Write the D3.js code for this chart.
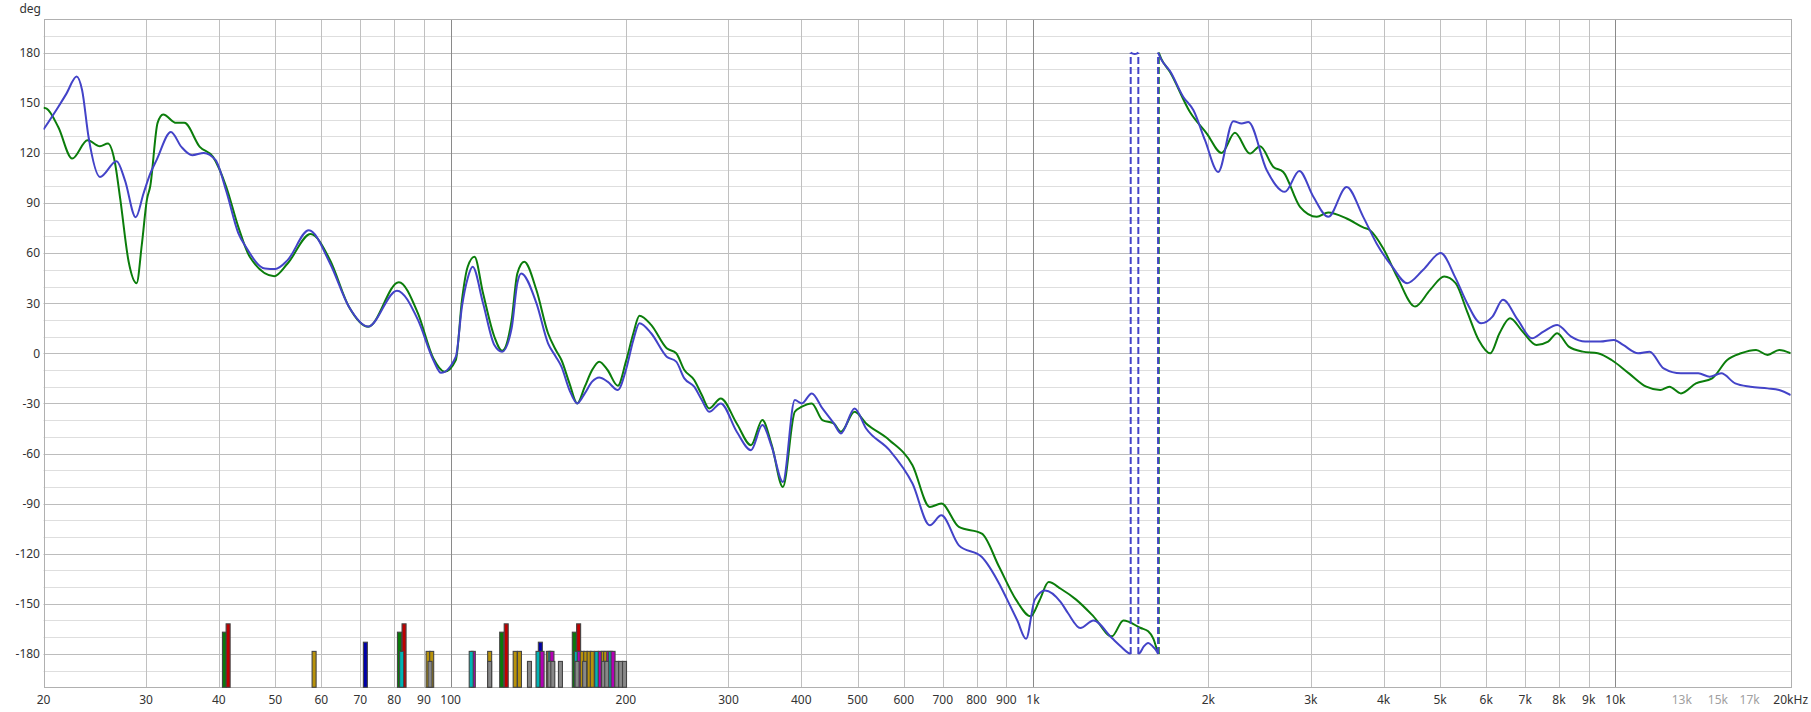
<!DOCTYPE html>
<html><head><meta charset="utf-8">
<script src="https://cdn.jsdelivr.net/npm/d3@7"></script>
<style>html,body{margin:0;padding:0;background:#fff;}svg{display:block;font-family:"Noto Sans",sans-serif;}</style>
</head><body>
<svg id="chart" width="1811" height="712"></svg>
<script>
// ---------------- data ----------------
const greenFreq = [20,20.25,21.2,22.4,23.8,25.0,25.8,26.5,27.1,28.0,
28.9,29.5,30.1,30.5,31.4,32.1,33.8,34.9,37.1,39.1,
41.2,43.2,45.2,49.8,52.5,57.5,62.1,66.9,72.2,81.5,
87.9,93.4,97.6,102.1,104.6,107,109.9,113.7,118.9,122.6,
127.3,130.2,133.8,140.4,147,151.6,155,160,165,170,
175,180,186,193.7,200,206,211,221,235,244,
252,262,270,278,291,310,328,343,356,372,
390,401,417,435,455,468,494,517,567,621,
665,696,746,817,875,935,991,1026,1064,1116,
1186,1270,1366,1430,1531,1577,1610,1635,1660,1719,
1860,1988,2108,2222,2358,2454,2587,2690,2874,3071,
3214,3456,3690,3790,3994,4230,4530,4808,5082,5317,
5565,5825,6100,6325,6592,6930,7320,7665,7944,8318,
8788,9328,9852,10550,11300,11940,12380,12960,13750,14660,
15560,16430,17440,18250,19110,20000];
const greenPhase = [147,146.5,135.5,116.6,127.6,124,125.6,115,92,55,
42,65,92,100,138,143,138,138,123.6,117.6,
99.6,75.7,57.8,46.2,53.8,71.4,55.8,27.9,15.9,42.6,
23.9,-3,-11,-4,31.9,51.8,57.8,35.9,9.9,1.5,
19.9,47.8,54.8,37.9,12,2,-4,-18,-30,-20,
-10,-5,-10,-19.4,-5,12,22.5,17,3,0,
-10,-16,-25,-33,-27,-42,-55,-40,-55,-80,
-35,-32,-30,-40,-42,-47,-35,-42,-52,-67,
-92,-90,-104,-108,-128,-147.5,-157.5,-148,-137,-141,
-147.5,-157.5,-169.5,-160,-164.5,-166.5,-171,-178,176.5,168.4,
144.5,131.6,120,132,119.6,124,111.6,108.6,87.7,81.7,
84.3,80.7,75.4,73.7,62.8,45,28,38,46,42,
25,8,0,12,21,13,5,7,12,4,
1,0,-4,-12,-20,-22,-20,-24,-18,-15,
-4,0,2,-1,2,0];

const blueFreq = [20,21.2,21.9,22.8,23.3,23.9,25.0,26.7,27.6,28.8,
29.7,30.5,31.3,33.1,34.5,36.0,37.7,39.5,41.2,43.2,
44.5,48,50,52.5,57.1,62.1,66.9,72.2,80.9,87.9,
93.4,96.3,102.1,104.6,107,109.1,113.7,118.9,122.6,127.3,
130.2,132.2,140.4,147,151.6,155,160,165,170,175,
180,186,193.7,200,206,211,221,235,244,252,
262,270,278,291,310,328,343,356,372,390,
401,417,435,455,468,494,517,567,621,665,
696,746,817,875,903,940,973,1007,1049,1116,
1148,1206,1270,1366,1420,1455,1480,1495,1510,1525,
1550,1577,1605,1635,1660,1719,1812,1886,1974,2080,
2208,2282,2343,2520,2708,2866,3030,3214,3456,3690,
3890,4136,4390,4678,5012,5317,5565,5880,6152,6412,
6800,7187,7525,7944,8395,8873,9413,9944,10310,10940,
11450,12100,12960,13880,14520,15200,16060,17050,18250,19110,
20000];
const bluePhase = [134,147.5,155.5,165.8,157.5,129.5,105.6,115,103.6,81.5,
95.7,107.6,116,132.5,123.6,118.6,120,115.6,97,72,
63.8,50.8,50.5,55.8,73.7,53.8,27.9,16,37.5,20,
-4,-11.7,-2,28,45,51.8,30,5,1,15,
42,47.8,30,6,-2,-8,-22,-30,-24,-17,
-14.5,-17,-22,-10,8,18,12,-2,-5,-15,
-20,-28,-35,-30,-47,-58,-43,-56,-77,-28,
-30,-24,-33,-42,-48,-33,-45,-58,-78,-103,
-97,-115,-122,-138,-147.5,-160,-171,-147.5,-142,-149,
-155.5,-164.5,-160,-170.5,-176,-179.2,179.6,179.2,179.6,-179.5,
-175.5,-173.4,-175.5,-179,176,169,153.5,145.5,127.6,108.6,
139,137.6,138.5,109.6,96.7,109.2,93.7,81.7,99.6,81.7,
65.8,52,42,50,60,45,30,18,22,32,
20,9,13,17,10,7,7,8,5,0,
1,-9,-12,-12,-14,-12,-18,-20,-21,-22,
-25];

// mode markers at the bottom (frequency, top value, kind)
const modeFreq  = [40.9,41.5,58.3,71.4,81.7,83.2,82.4,91.5,92.8,92.2,
109.4,108.5,116.7,116.7,122.4,124.6,129.1,131.3,136.6,142.6,
141.3,143.6,147.2,148.2,149.3,148.0,149.8,154.4,163.1,165.9,
164.4,166.3,168.3,170.6,172.9,175.1,178.2,180.7,182.9,184.6,
186.9,188.3,190.1,164.9,169.9,183.1,185.4,192.9,195.9,198.9];
const modeValue = [-167,-162,-178.5,-173,-167,-162,-178.5,-178.5,-178.5,-184.5,
-178.5,-178.5,-178.5,-184.5,-167,-162,-178.5,-178.5,-184.5,-173,
-178.5,-178.5,-178.5,-178.5,-178.5,-184.5,-184.5,-184.5,-167,-162,
-178.5,-178.5,-178.5,-178.5,-178.5,-178.5,-178.5,-178.5,-178.5,-178.5,
-178.5,-178.5,-178.5,-184.5,-184.5,-184.5,-184.5,-184.5,-184.5,-184.5];
const modeKind  = ["g","r","y","b","g","r","c","y","y","k",
"m","c","y","k","g","r","y","y","k","b",
"c","m","y","c","m","k","k","k","g","r",
"c","m","y","y","y","y","c","m","y","y",
"m","c","m","k","k","k","k","k","k","k"];

const xTickFreq  = [20,30,40,50,60,70,80,90,100,200,300,400,500,600,700,800,900,1000,2000,3000,4000,5000,6000,7000,8000,9000,10000,13000,15000,17000,20000];
const xTickLabel = ["20","30","40","50","60","70","80","90","100","200","300","400","500","600","700","800","900","1k","2k","3k","4k","5k","6k","7k","8k","9k","10k","13k","15k","17k","20kHz"];
const yTickValues = [-180,-150,-120,-90,-60,-30,0,30,60,90,120,150,180];
const yUnit = "deg";

// ---------------- layout ----------------
const W = 1811, H = 712;
const L = 43.5, R = 1790.7, T = 19.3, B = 687.3;
const svg = d3.select("#chart");
const x = d3.scaleLog().domain([20, 20000]).range([L, R]);
const y = d3.scaleLinear().domain([-200, 200]).range([B, T]);
const px = v => Math.round(v) + 0.5;

const colors = {g:"#0a7a0a", r:"#c00000", y:"#b8920a", b:"#0000a8", c:"#00b4b4", m:"#b400b4", k:"#888888"};
const greenCol = "#0b7d0b", blueCol = "#4343c8";

// grid
const grid = svg.append("g");
// horizontal
d3.range(-190, 200, 10).forEach(v => {
  const major = v % 30 === 0;
  grid.append("line").attr("x1", L).attr("x2", R).attr("y1", px(y(v))).attr("y2", px(y(v)))
    .attr("stroke", major ? "#bcbcbc" : "#dedede").attr("stroke-width", 1);
});
// vertical
const vLines = [];
[10,100,1000,10000].forEach(dec => { for (let k=1;k<10;k++){ const f=dec*k; if (f>20 && f<20000) vLines.push(f);} });
const light = vLines.filter(f => f > 10000);
const normal = vLines.filter(f => f <= 10000 && ![100,1000,10000].includes(f));
const dark = [100,1000,10000];
light.forEach(f => grid.append("line").attr("x1", px(x(f))).attr("x2", px(x(f))).attr("y1", T).attr("y2", B).attr("stroke", "#e2e2e2"));
normal.forEach(f => grid.append("line").attr("x1", px(x(f))).attr("x2", px(x(f))).attr("y1", T).attr("y2", B).attr("stroke", "#c0c0c0"));
dark.forEach(f => grid.append("line").attr("x1", px(x(f))).attr("x2", px(x(f))).attr("y1", T).attr("y2", B).attr("stroke", "#8a8a8a"));
// border
grid.append("rect").attr("x", px(L)).attr("y", px(T)).attr("width", Math.round(R) - Math.round(L)).attr("height", Math.round(B) - Math.round(T))
  .attr("fill", "none").attr("stroke", "#b0b0b0");

// axis labels
const axisG = svg.append("g").attr("font-size", 12);
xTickFreq.forEach((f, i) => {
  axisG.append("text").attr("x", x(f)).attr("y", 703.5).attr("text-anchor", "middle")
    .attr("fill", (f > 10000 && f < 20000) ? "#a0a0a0" : "#333")
    .text(xTickLabel[i]);
});
yTickValues.forEach(v => {
  axisG.append("text").attr("x", 40).attr("y", y(v) + 4.3).attr("text-anchor", "end").attr("fill", "#333").text(String(v));
});
axisG.append("text").attr("x", 41).attr("y", 12.5).attr("text-anchor", "end").attr("fill", "#333").text(yUnit);

// clip
svg.append("clipPath").attr("id", "clip").append("rect").attr("x", L).attr("y", T).attr("width", R - L).attr("height", B - T);

// mode bars
const barW = 4;
const bars = svg.append("g");
modeFreq.forEach((f, i) => {
  const cx = x(f), top = y(modeValue[i]);
  bars.append("rect").attr("x", cx - barW/2).attr("y", top).attr("width", barW).attr("height", B - top)
    .attr("fill", colors[modeKind[i]]).attr("stroke", "#444").attr("stroke-width", 1.1);
});

// phase curves with wrap handling
function splitWraps(freqs, vals) {
  const segs = [], wraps = [];
  let cur = [[freqs[0], vals[0]]];
  for (let i = 1; i < freqs.length; i++) {
    const a = vals[i-1], b = vals[i];
    if (Math.abs(b - a) > 180) {
      const bu = b > a ? b - 360 : b + 360;
      const edge = b > a ? -180 : 180;
      const t = (edge - a) / (bu - a);
      const lf = Math.log(freqs[i-1]) + t * (Math.log(freqs[i]) - Math.log(freqs[i-1]));
      const fc = Math.exp(lf);
      cur.push([fc, edge]);
      segs.push(cur);
      wraps.push(fc);
      cur = [[fc, -edge], [freqs[i], b]];
    } else cur.push([freqs[i], b]);
  }
  segs.push(cur);
  return {segs, wraps};
}
const lineGen = d3.line().x(d => x(d[0])).y(d => y(d[1])).curve(d3.curveMonotoneX);
const curves = svg.append("g").attr("clip-path", "url(#clip)");
function drawSeries(freqs, vals, col) {
  const {segs, wraps} = splitWraps(freqs, vals);
  wraps.forEach(fc => {
    curves.append("line").attr("x1", x(fc)).attr("x2", x(fc)).attr("y1", y(-180)).attr("y2", y(180))
      .attr("stroke", col).attr("stroke-width", 2).attr("stroke-dasharray", "7,3");
  });
  segs.forEach(s => {
    curves.append("path").attr("d", lineGen(s)).attr("fill", "none").attr("stroke", col)
      .attr("stroke-width", 2).attr("stroke-linejoin", "round");
  });
}
drawSeries(greenFreq, greenPhase, greenCol);
drawSeries(blueFreq, bluePhase, blueCol);
</script>
</body></html>
